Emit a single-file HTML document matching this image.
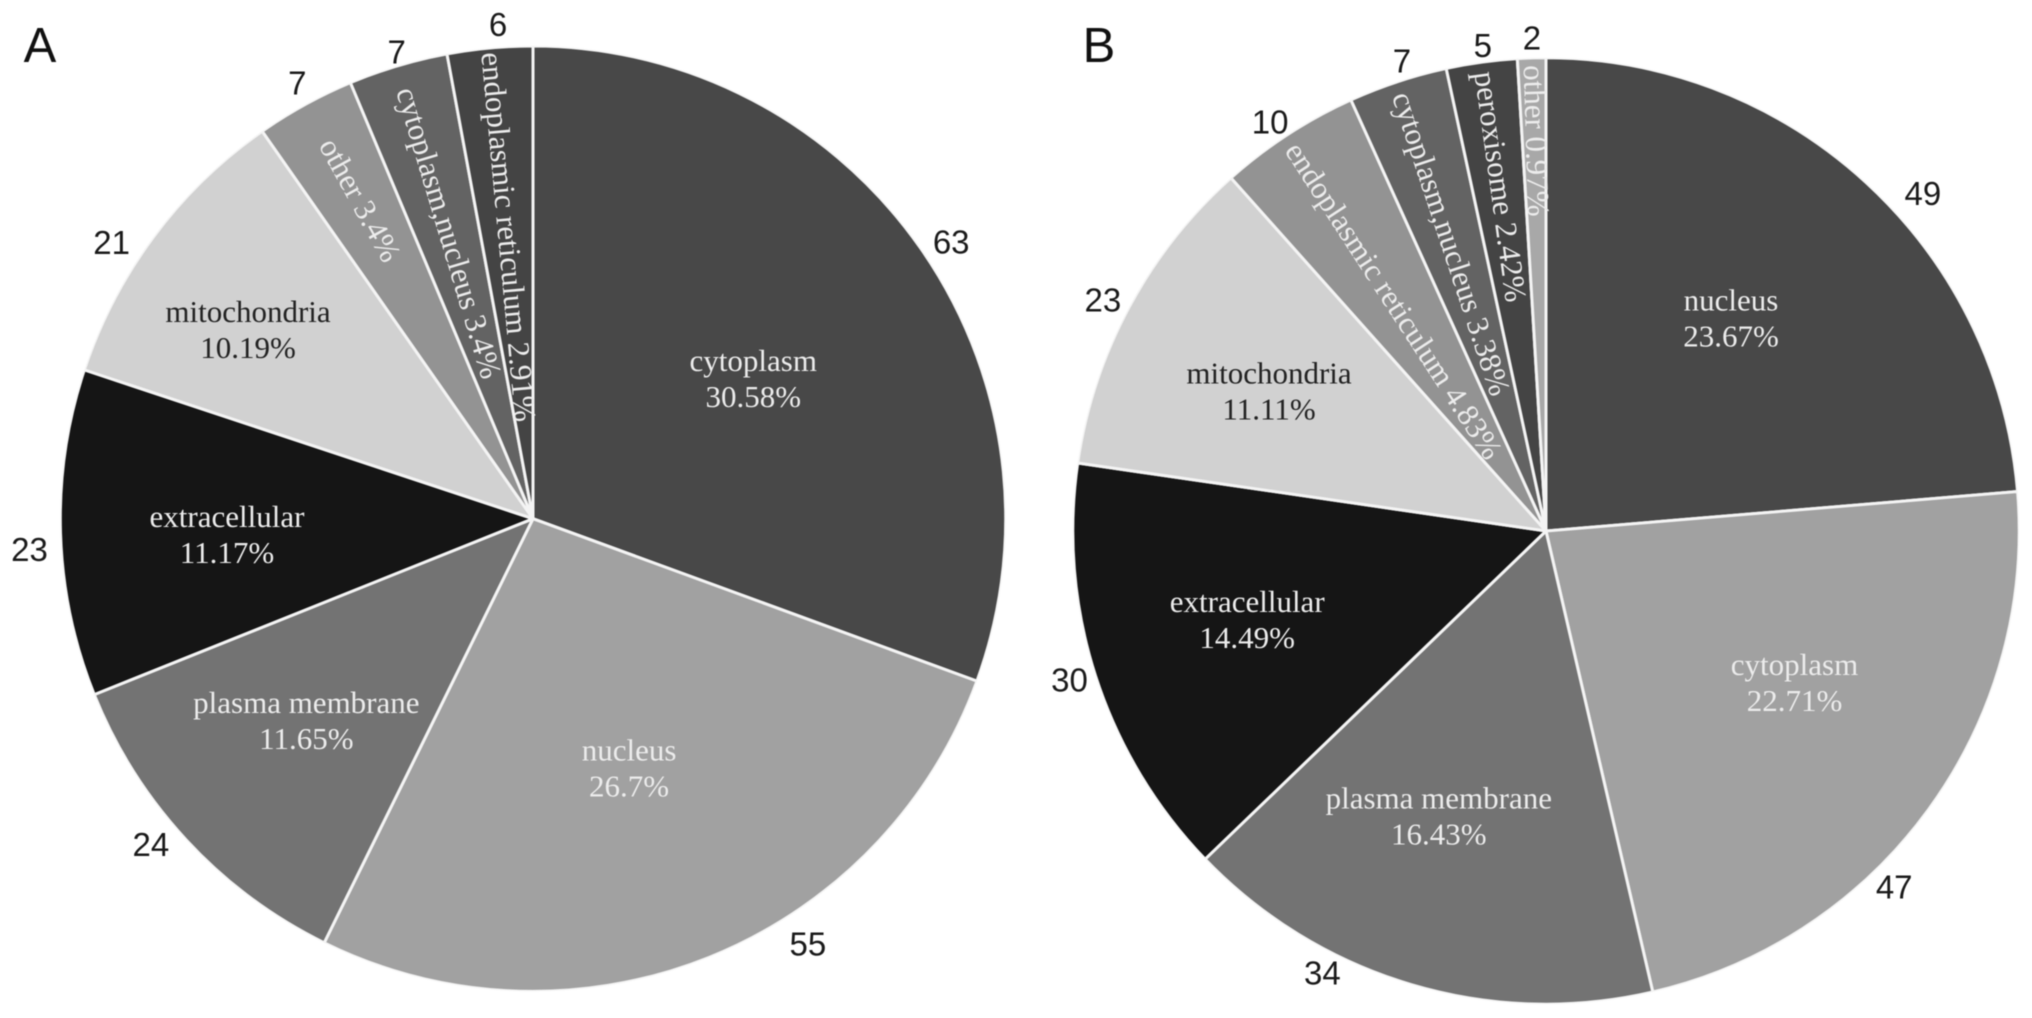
<!DOCTYPE html>
<html lang="en">
<head>
<meta charset="utf-8">
<title>Subcellular localization pie charts</title>
<style>
html,body{margin:0;padding:0;background:#fff;}
svg{display:block;filter:blur(0.6px);}
.pct{font-family:"Liberation Serif",serif;font-size:31px;}
.num{font-family:"Liberation Sans",sans-serif;font-size:33px;fill:#1a1a1a;}
.panel{font-family:"Liberation Sans",sans-serif;font-size:49px;fill:#111;}
</style>
</head>
<body>
<svg id="chart" xmlns="http://www.w3.org/2000/svg" width="2032" height="1018" viewBox="0 0 2032 1018">
  <text class="panel" x="40" y="62" text-anchor="middle">A</text>
  <text class="panel" x="1099" y="62" text-anchor="middle">B</text>
</svg>
<script>
// Panel A data
const categoriesA = ['cytoplasm','nucleus','plasma membrane','extracellular','mitochondria','other','cytoplasm,nucleus','endoplasmic reticulum'];
const valuesA = [63,55,24,23,21,7,7,6];
// Panel B data
const categoriesB = ['nucleus','cytoplasm','plasma membrane','extracellular','mitochondria','endoplasmic reticulum','cytoplasm,nucleus','peroxisome','other'];
const valuesB = [49,47,34,30,23,10,7,5,2];

// Styling per category
const fillByCategory = {
  'A:cytoplasm':'#484848','A:nucleus':'#a1a1a1','A:plasma membrane':'#737373','A:extracellular':'#151515','A:mitochondria':'#d1d1d1','A:other':'#939393','A:cytoplasm,nucleus':'#636363','A:endoplasmic reticulum':'#444444',
  'B:nucleus':'#484848','B:cytoplasm':'#a1a1a1','B:plasma membrane':'#737373','B:extracellular':'#151515','B:mitochondria':'#d1d1d1','B:endoplasmic reticulum':'#939393','B:cytoplasm,nucleus':'#636363','B:peroxisome':'#444444','B:other':'#a8a8a8'
};
// Label placement relative to each slice: [inside radius fraction, inside angle nudge, rotated?, outer radius fraction, outer angle nudge]
const placementA = [
  [.552,2.75,0,1.063,1.5],[.57,.9,0,1.075,-11],[.646,.9,0,1.066,2.3],[.65,-1.45,0,1.07,-1.8],
  [.724,-3.3,0,1.068,-3.5],[.769,-.4,1,1.05,.4],[.632,-.7,1,1.03,.3],[.6,-.7,1,1.05,1.2]
];
const placementB = [
  [.595,-1.4,0,1.071,5.6],[.618,-4.5,0,1.056,9.6],[.648,4,0,1.05,10.3],[.661,1.1,0,1.058,.4],
  [.656,-1.7,0,1.058,-.8],[.585,-1.4,1,1.044,-1],[.641,-.9,1,1.04,1.2],[.736,-.5,1,1.036,.4],[.827,-.4,1,1.044,.1]
];

const svg = document.getElementById('chart');
const NS = 'http://www.w3.org/2000/svg';

function polar(cx, cy, r, deg) {
  const a = deg * Math.PI / 180;
  return [cx + r * Math.sin(a), cy - r * Math.cos(a)];
}
function slug(s) { return s.replace(/[^a-z]+/gi, '-').toLowerCase(); }

function drawPie(panel, categories, values, placement, cx, cy, R) {
  const total = values.reduce((a, b) => a + b, 0);
  const group = document.createElementNS(NS, 'g');
  
  
  svg.appendChild(group);
  let start = 0;
  const mids = [];
  values.forEach((v, i) => {
    const sweep = v / total * 360;
    const end = start + sweep;
    const p0 = polar(cx, cy, R, start);
    const p1 = polar(cx, cy, R, end);
    const path = document.createElementNS(NS, 'path');
    path.setAttribute('d', 'M' + cx + ' ' + cy + 'L' + p0[0] + ' ' + p0[1] + 'A' + R + ' ' + R + ' 0 ' + (sweep > 180 ? 1 : 0) + ' 1 ' + p1[0] + ' ' + p1[1] + 'Z');
    path.setAttribute('fill', fillByCategory[panel + ':' + categories[i]]);
    path.setAttribute('stroke', '#f4f4f4');
    path.setAttribute('stroke-width', '3');
    path.setAttribute('stroke-linejoin', 'round');
    
    
    group.appendChild(path);
    mids.push(start + sweep / 2);
    start = end;
  });
  // Outer ring stroke is white on the rim; hide its grey tint
  const rim = document.createElementNS(NS, 'circle');
  rim.setAttribute('cx', cx);
  rim.setAttribute('cy', cy);
  rim.setAttribute('r', R + 1.5);
  rim.setAttribute('fill', 'none');
  rim.setAttribute('stroke', '#fff');
  rim.setAttribute('stroke-width', '3');
  
  
  group.appendChild(rim);

  const LR = R - 1.2;
  values.forEach((v, i) => {
    const place = placement[i];
    const mid = mids[i];
    const pct = parseFloat((v / total * 100).toFixed(2)) + '%';
    const dark = categories[i] === 'mitochondria';
    const p = polar(cx, cy, place[0] * LR, mid + place[1]);
    const label = document.createElementNS(NS, 'text');
    label.setAttribute('class', 'pct');
    label.setAttribute('text-anchor', 'middle');
    label.setAttribute('fill', dark ? '#222' : '#ececec');
    
    
    if (place[2]) {
      label.setAttribute('dominant-baseline', 'central');
      label.setAttribute('y', '-5');
      label.setAttribute('transform', 'translate(' + p[0] + ' ' + p[1] + ') rotate(' + (mid - 270) + ')');
      label.textContent = categories[i] + ' ' + pct;
    } else {
      const line1 = document.createElementNS(NS, 'tspan');
      line1.setAttribute('x', p[0]);
      line1.setAttribute('y', p[1] - 9);
      line1.textContent = categories[i];
      label.appendChild(line1);
      const line2 = document.createElementNS(NS, 'tspan');
      line2.setAttribute('x', p[0]);
      line2.setAttribute('y', p[1] + 27);
      line2.textContent = pct;
      label.appendChild(line2);
    }
    group.appendChild(label);

    const q = polar(cx, cy, place[3] * LR, mid + place[4]);
    const num = document.createElementNS(NS, 'text');
    num.setAttribute('class', 'num');
    num.setAttribute('x', q[0]);
    num.setAttribute('y', q[1] + 11);
    num.setAttribute('text-anchor', 'middle');
    
    
    num.textContent = v;
    group.appendChild(num);
  });
}

drawPie('A', categoriesA, valuesA, placementA, 533, 518.7, 472.7);
drawPie('B', categoriesB, valuesB, placementB, 1546, 531, 473.2);
</script>
</body>
</html>
